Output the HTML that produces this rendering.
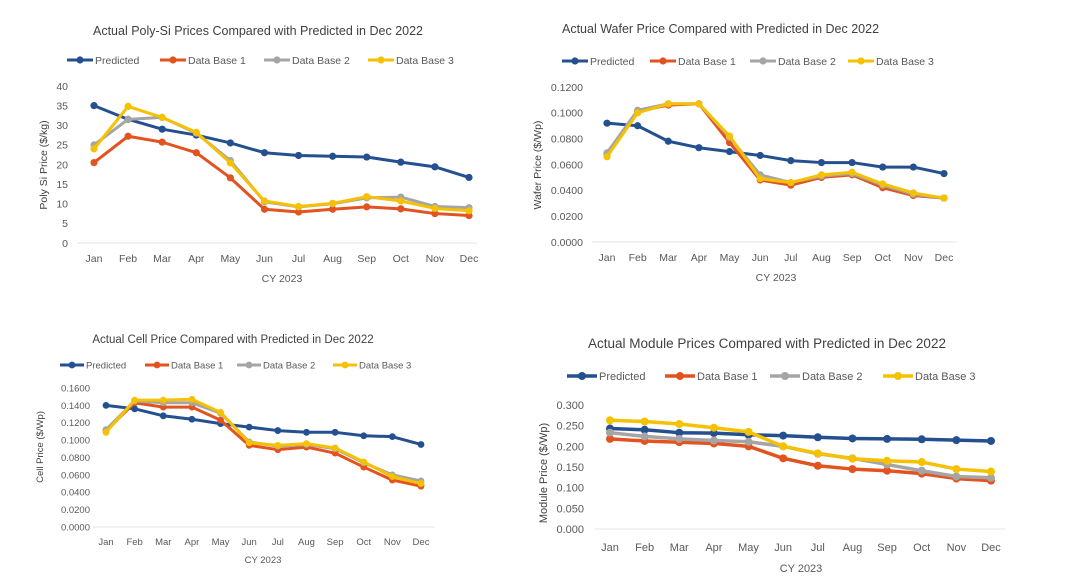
<!DOCTYPE html>
<html><head><meta charset="utf-8">
<style>
html,body{margin:0;padding:0;background:#fff;}
svg{display:block;font-family:"Liberation Sans",sans-serif;}
</style></head>
<body>
<svg id="s" width="1069" height="578" viewBox="0 0 1069 578"></svg>
<script>
const months = ["Jan","Feb","Mar","Apr","May","Jun","Jul","Aug","Sep","Oct","Nov","Dec"];
const seriesNames = ["Predicted","Data Base 1","Data Base 2","Data Base 3"];
const colors = ["#24508f","#e2531f","#a5a5a5","#f6c100"];

const polyPred = [35,31.5,29,27.5,25.5,23,22.3,22.1,21.9,20.6,19.4,16.7];
const polyDb1 = [20.5,27.2,25.7,23,16.6,8.6,7.9,8.6,9.2,8.7,7.5,7.0];
const polyDb2 = [25,31.5,32,28,21,10.5,9.2,10,11.5,11.7,9.3,9.0];
const polyDb3 = [24,34.8,32,28.2,20.4,10.7,9.3,10.1,11.8,10.7,8.8,8.2];
const polyTicks = [0,5,10,15,20,25,30,35,40];

const waferPred = [0.092,0.090,0.078,0.073,0.070,0.067,0.063,0.0615,0.0615,0.058,0.058,0.053];
const waferDb1 = [0.068,0.101,0.106,0.107,0.077,0.048,0.044,0.050,0.052,0.042,0.036,0.034];
const waferDb2 = [0.069,0.102,0.107,0.107,0.081,0.052,0.046,0.051,0.053,0.044,0.037,0.034];
const waferDb3 = [0.066,0.100,0.107,0.107,0.082,0.049,0.046,0.052,0.054,0.045,0.038,0.034];
const waferTicks = [0,0.02,0.04,0.06,0.08,0.10,0.12];

const cellPred = [0.140,0.136,0.128,0.124,0.119,0.115,0.111,0.109,0.109,0.105,0.104,0.095];
const cellDb1 = [0.111,0.143,0.138,0.138,0.123,0.094,0.089,0.092,0.085,0.069,0.054,0.047];
const cellDb2 = [0.112,0.145,0.143,0.143,0.131,0.098,0.093,0.095,0.090,0.074,0.060,0.053];
const cellDb3 = [0.109,0.146,0.146,0.147,0.132,0.097,0.094,0.096,0.091,0.075,0.058,0.050];
const cellTicks = [0,0.02,0.04,0.06,0.08,0.10,0.12,0.14,0.16];

const modPred = [0.243,0.240,0.233,0.232,0.228,0.226,0.222,0.219,0.218,0.217,0.215,0.213];
const modDb1 = [0.218,0.213,0.210,0.207,0.200,0.171,0.153,0.145,0.141,0.134,0.122,0.117];
const modDb2 = [0.233,0.224,0.218,0.214,0.211,0.200,0.182,0.171,0.156,0.141,0.127,0.124];
const modDb3 = [0.263,0.260,0.254,0.245,0.235,0.200,0.183,0.170,0.165,0.162,0.145,0.139];
const modTicks = [0,0.05,0.10,0.15,0.20,0.25,0.30];

const NS="http://www.w3.org/2000/svg";
const svg=document.getElementById('s');
function mk(tag,attrs,parent,text){const e=document.createElementNS(NS,tag);for(const k in attrs)e.setAttribute(k,attrs[k]);if(text!==undefined)e.textContent=text;(parent||svg).appendChild(e);return e;}

function chart(c){
  const g=mk('g',{});
  
  
  const fs=c.fs;
  const ymax=c.ticks[c.ticks.length-1];
  const ys=v=>c.y0+(c.yTop-c.y0)*(v/ymax);
  const xs=i=>c.xJan+(c.xDec-c.xJan)*i/11;
  const t=mk('text',{x:c.titleX,y:c.titleY,'font-size':c.tfs,fill:'#404040','text-anchor':c.titleAnchor},g,c.title);
  
  
  // legend
  for(let s=0;s<4;s++){
    const lg=mk('g',{},g);
    
    
    const lx=c.leg[s];
    mk('line',{x1:lx,x2:lx+c.legW,y1:c.legY,y2:c.legY,stroke:colors[s],'stroke-width':c.sw},lg);
    mk('circle',{cx:lx+c.legW/2,cy:c.legY,r:c.r,fill:colors[s]},lg);
    mk('text',{x:lx+c.legW+2,y:c.legY+fs*0.36,'font-size':fs,fill:'#595959'},lg,seriesNames[s]);
  }
  // axis baseline
  const ax=mk('line',{x1:c.axL,x2:c.axR,y1:c.y0,y2:c.y0,stroke:'#e3e3e3','stroke-width':1},g);
  
  
  c.ticks.forEach(v=>{
    const tt=mk('text',{x:c.tickX,y:ys(v)+fs*0.36,'font-size':fs,fill:'#595959','text-anchor':'end'},g,v.toFixed(c.dec));
    
    
  });
  months.forEach((m,i)=>{
    const tt=mk('text',{x:xs(i),y:c.xlY,'font-size':fs,fill:'#595959','text-anchor':'middle'},g,m);
    
    
  });
  const xt=mk('text',{x:c.xtX,y:c.xtY,'font-size':fs,fill:'#595959','text-anchor':'middle'},g,'CY 2023');
  
  
  const yt=mk('text',{x:0,y:0,'font-size':fs,fill:'#404040','text-anchor':'middle',transform:`translate(${c.ytX},${c.ytY}) rotate(-90)`},g,c.yTitle);
  
  
  // series: draw predicted last? draw in order DB1, DB2, DB3, Predicted? keep order
  const order=[0,1,2,3];
  order.forEach(s=>{
    const d=c.data[s];
    const sg=mk('g',{},g);
    
    
    mk('polyline',{points:d.map((v,i)=>xs(i)+','+ys(v)).join(' '),fill:'none',stroke:colors[s],'stroke-width':c.sw,'stroke-linejoin':'round'},sg);
    d.forEach((v,i)=>{
      const p=mk('circle',{cx:xs(i),cy:ys(v),r:c.r,fill:colors[s]},sg);
      
      
    });
  });
}

chart({id:'poly-si',title:'Actual Poly-Si Prices Compared with Predicted in Dec 2022',titleX:258,titleY:35,titleAnchor:'middle',tfs:12.5,
  fs:10.5,leg:[67,160,264,368],legW:26,legY:60,sw:3,r:3.6,
  y0:243,yTop:86,xJan:94,xDec:469,axL:77,axR:477,tickX:68,xlY:262,xtX:282,xtY:282,ytX:47,ytY:165,
  yTitle:'Poly Si Price ($/kg)',ticks:polyTicks,dec:0,data:[polyPred,polyDb1,polyDb2,polyDb3]});

chart({id:'wafer',title:'Actual Wafer Price Compared with Predicted in Dec 2022',titleX:562,titleY:33,titleAnchor:'start',tfs:12.5,
  fs:10.5,leg:[562,650,750,848],legW:26,legY:61,sw:3,r:3.6,
  y0:242,yTop:87,xJan:607,xDec:944,axL:592,axR:957,tickX:583,xlY:261,xtX:776,xtY:281,ytX:541,ytY:165,
  yTitle:'Wafer Price ($/Wp)',ticks:waferTicks,dec:4,data:[waferPred,waferDb1,waferDb2,waferDb3]});

chart({id:'cell',title:'Actual Cell Price Compared with Predicted in Dec 2022',titleX:233,titleY:343,titleAnchor:'middle',tfs:11.5,
  fs:9.5,leg:[60,145,237,333],legW:24,legY:365,sw:3,r:3.4,
  y0:527,yTop:388,xJan:106,xDec:421,axL:93,axR:435,tickX:90,xlY:545,xtX:263,xtY:563,ytX:43,ytY:447,
  yTitle:'Cell Price ($/Wp)',ticks:cellTicks,dec:4,data:[cellPred,cellDb1,cellDb2,cellDb3]});

chart({id:'module',title:'Actual Module Prices Compared with Predicted in Dec 2022',titleX:767,titleY:348,titleAnchor:'middle',tfs:13.5,
  fs:11,leg:[567,665,770,883],legW:30,legY:376,sw:3.5,r:4,
  y0:529,yTop:405,xJan:610,xDec:991,axL:595,axR:1005,tickX:584,xlY:551,xtX:801,xtY:572,ytX:547,ytY:473,
  yTitle:'Module Price ($/Wp)',ticks:modTicks,dec:3,data:[modPred,modDb1,modDb2,modDb3]});
</script>
</body></html>
